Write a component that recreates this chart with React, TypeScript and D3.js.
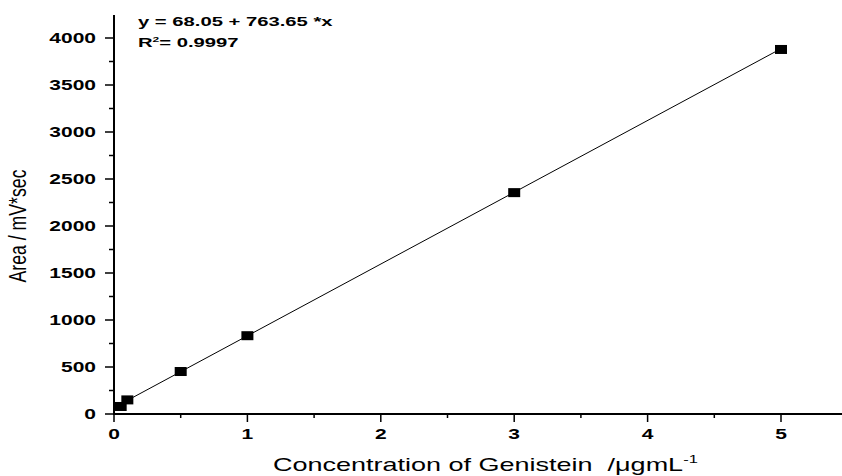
import React from "react";
import * as d3 from "d3";

const concentrations = [0.05, 0.1, 0.5, 1, 3, 5];
const areas = [80, 150, 452, 833, 2355, 3878];
const intercept = 68.05;
const slope = 763.65;
const xTicks = [0, 1, 2, 3, 4, 5];
const yTicks = [0, 500, 1000, 1500, 2000, 2500, 3000, 3500, 4000];
const eqText = "y = 68.05 + 763.65 *x";
const r2Value = "= 0.9997";

const W = 842;
const H = 476;
const left = 114;
const bottom = 414;
const SX = 1.5;

export default function App() {
  const x = d3.scaleLinear().domain([0, 5]).range([left, 781]);
  const y = d3.scaleLinear().domain([0, 4000]).range([bottom, 38]);
  const xMinor = d3.range(0.5, 5.5, 1);
  const yMinor = d3.range(250, 4250, 500);
  const fit = [0.05, 5].map((v) => [x(v), y(intercept + slope * v)] as [number, number]);
  const line = d3.line();
  const font = "'Liberation Sans', Arial, sans-serif";
  return (
    <svg width={W} height={H} style={{ position: "absolute", left: 0, top: 0, background: "#fff" }}>
      <rect width={W} height={H} fill="#fff" />
      {/* axes */}
      <line x1={left} y1={15} x2={left} y2={bottom + 1} stroke="#000" strokeWidth={2} />
      <line x1={left - 1} y1={bottom} x2={W} y2={bottom} stroke="#000" strokeWidth={2} />
      {yTicks.map((t) => (
        <g key={"y" + t}>
          <line x1={left - 9} x2={left} y1={y(t)} y2={y(t)} stroke="#000" strokeWidth={1.5} />
          <text
            transform={`translate(${left - 18},${y(t)}) scale(${SX},1)`}
            dy="0.36em"
            textAnchor="end"
            fontFamily={font}
            fontWeight="bold"
            fontSize={14}
          >
            {t}
          </text>
        </g>
      ))}
      {yMinor.map((t) => (
        <line key={"ym" + t} x1={left - 5} x2={left} y1={y(t)} y2={y(t)} stroke="#000" strokeWidth={1.5} />
      ))}
      {xTicks.map((t) => (
        <g key={"x" + t}>
          <line x1={x(t)} x2={x(t)} y1={bottom} y2={bottom + 8} stroke="#000" strokeWidth={1.5} />
          <text
            transform={`translate(${x(t)},${bottom + 20}) scale(${SX},1)`}
            dy="0.36em"
            textAnchor="middle"
            fontFamily={font}
            fontWeight="bold"
            fontSize={14}
          >
            {t}
          </text>
        </g>
      ))}
      {xMinor.map((t) => (
        <line key={"xm" + t} x1={x(t)} x2={x(t)} y1={bottom} y2={bottom + 4} stroke="#000" strokeWidth={1.5} />
      ))}
      {/* fit line */}
      <path d={line(fit) || ""} stroke="#000" strokeWidth={1} fill="none" />
      {/* points */}
      {concentrations.map((c, i) => (
        <rect key={"p" + i} x={x(c) - 6} y={y(areas[i]) - 4.5} width={12} height={9} fill="#000" />
      ))}
      {/* equation */}
      <text transform={`translate(138,26) scale(${SX},1)`} fontFamily={font} fontWeight="bold" fontSize={13.5}>
        {eqText}
      </text>
      <text transform={`translate(138,47) scale(${SX},1)`} fontFamily={font} fontWeight="bold" fontSize={13.5}>
        R<tspan dy={-5} fontSize={8}>2</tspan>
        <tspan dy={5}>{r2Value}</tspan>
      </text>
      {/* axis titles */}
      <text
        transform={`translate(26,${226}) scale(${SX},1) rotate(-90)`}
        textAnchor="middle"
        fontFamily={font}
        fontSize={16}
        textLength={113}
        lengthAdjust="spacingAndGlyphs"
      >
        Area / mV*sec
      </text>
      <text
        transform={`translate(273,471) scale(${SX},1)`}
        fontFamily={font}
        fontSize={18}
        style={{ whiteSpace: "pre" }}
      >
        {"Concentration of Genistein  /μgmL"}
        <tspan dy={-8} fontSize={11}>-1</tspan>
      </text>
    </svg>
  );
}
